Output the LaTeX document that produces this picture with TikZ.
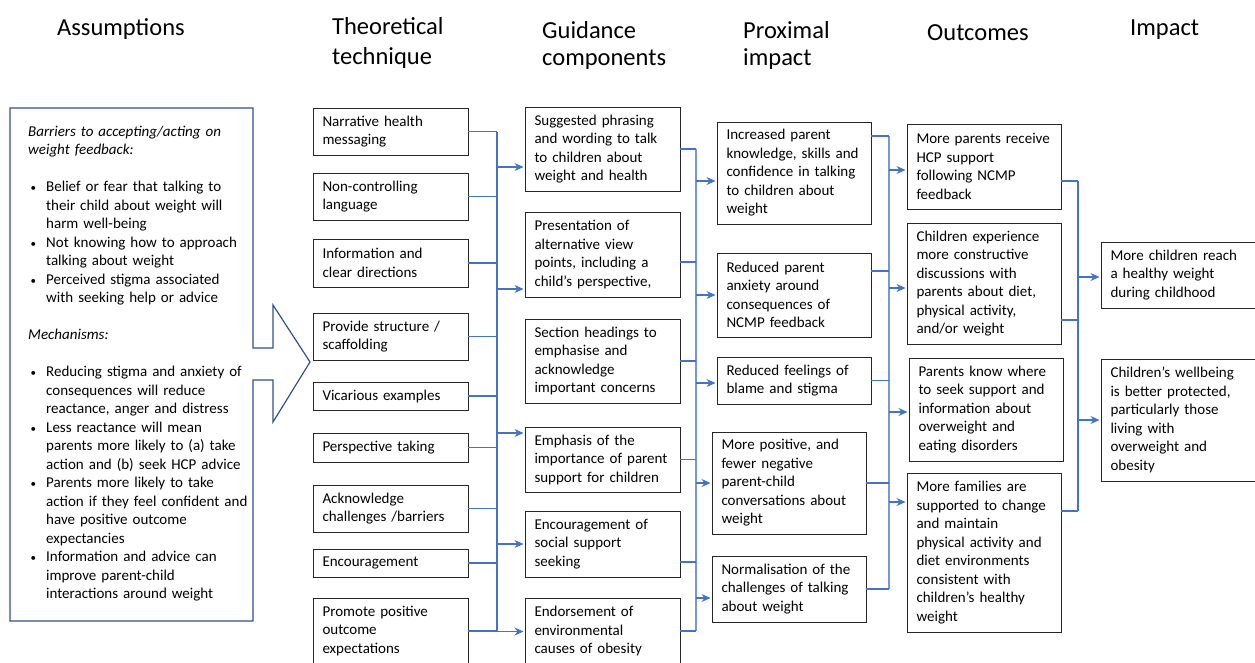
\documentclass[tikz,border=0pt]{standalone}
\usepackage{fontspec}
\setmainfont{Carlito}
\usetikzlibrary{arrows.meta,positioning}
\definecolor{linkblue}{RGB}{68,114,196}
\definecolor{buslight}{RGB}{120,152,212}
\definecolor{framenavy}{RGB}{47,82,143}
\newcommand{\bitem}{\par\hangindent=18pt\hangafter=1\noindent\hbox to 18pt{\hskip2.5pt{\fontsize{11}{11}\selectfont\textbullet}\hfil}}

\begin{document}
\begin{tikzpicture}[x=1pt,y=-1pt,>={Stealth[length=9pt,width=8pt]},
    box/.style={rectangle,draw=black!85,line width=0.9pt,outer sep=0pt,align=left,inner xsep=9.5pt,inner ysep=0pt,font=\fontsize{15}{18.5}\selectfont},
    techbox/.style={box,text width=136pt},
    guidebox/.style={box,text width=136pt},
    proxbox/.style={box,text width=135pt},
    outbox/.style={box,text width=135pt},
    impbox/.style={box,text width=146pt},
    head/.style={anchor=base west,inner sep=0pt,align=left,text width=160pt,font=\fontsize{24.5}{30}\selectfont},
    assumetext/.style={anchor=base west,inner sep=0pt,align=left,text width=222pt,font=\fontsize{15}{18.5}\selectfont},
    link/.style={draw=linkblue,line width=1.1pt},
    bus/.style={draw=buslight,line width=1.1pt},
    arrow link/.style={link,->,shorten >=1.5pt}]

    \useasboundingbox (0,0) rectangle (1255,662);
    \clip (0,0) rectangle (1255,662);

    \node[head] (hAssume) at (57,35) {Assumptions};
    \node[head] (hTech)   at (332,34) {Theoretical\\technique};
    \node[head] (hGuide)  at (542,38) {Guidance\\[-3pt]components};
    \node[head] (hProx)   at (743,38) {Proximal\\[-3pt]impact};
    \node[head] (hOut)    at (927,40) {Outcomes};
    \node[head] (hImp)    at (1130,35) {Impact};

    \draw[framenavy,line width=1.2pt] (10,108) -- (253,108) -- (253,348) -- (273,348) -- (273,305)
        -- (310,362) -- (273,422) -- (273,380) -- (253,380) -- (253,621) -- (10,621) -- cycle;
    \node[assumetext] (assume) at (28,136) {%
        \textit{Barriers to accepting/acting on\newline weight feedback:}\par\vskip18.5pt
        \bitem Belief or fear that talking to\newline their child about weight will\newline harm well-being
        \bitem Not knowing how to approach\newline talking about weight
        \bitem Perceived stigma associated\newline with seeking help or advice\par\vskip18.5pt
        \noindent\textit{Mechanisms:}\par\vskip18.5pt
        \bitem Reducing stigma and anxiety of\newline consequences will reduce\newline reactance, anger and distress
        \bitem Less reactance will mean\newline parents more likely to (a) take\newline action and (b) seek HCP advice
        \bitem Parents more likely to take\newline action if they feel confident and\newline have positive outcome\newline expectancies
        \bitem Information and advice can\newline improve parent-child\newline interactions around weight\par};

    \node[techbox,minimum height=47pt,anchor=north west] (narr) at (313,108) {Narrative health\\messaging};
    \node[techbox,minimum height=47pt,below=18pt of narr] (nonctrl) {Non-controlling\\language};
    \node[techbox,minimum height=48pt,below=19pt of nonctrl] (info) {Information and\\clear directions};
    \node[techbox,minimum height=47pt,below=26pt of info] (struct) {Provide structure /\\scaffolding};
    \node[techbox,minimum height=28pt,below=22pt of struct] (vicar) {Vicarious examples};
    \node[techbox,minimum height=29pt,below=23pt of vicar] (persp) {Perspective taking};
    \node[techbox,minimum height=47pt,below=23pt of persp] (acknow) {Acknowledge\\challenges /barriers};
    \node[techbox,minimum height=28pt,below=17pt of acknow] (encour) {Encouragement};
    \node[techbox,minimum height=66pt,below=21pt of encour] (promote) {Promote positive\\outcome\\expectations};

    \node[guidebox,minimum height=84pt,anchor=north west] (suggest) at (525,107) {Suggested phrasing\\and wording to talk\\to children about\\weight and health};
    \node[guidebox,minimum height=85pt,below=21pt of suggest] (present) {Presentation of\\alternative view\\points, including a\\child’s perspective,};
    \node[guidebox,minimum height=84pt,below=22pt of present] (headings) {Section headings to\\emphasise and\\acknowledge\\important concerns};
    \node[guidebox,minimum height=65pt,below=24pt of headings] (emph) {Emphasis of the\\importance of parent\\support for children};
    \node[guidebox,minimum height=66pt,below=19pt of emph] (social) {Encouragement of\\social support\\seeking};
    \node[guidebox,minimum height=66pt,below=21pt of social] (endorse) {Endorsement of\\environmental\\causes of obesity};

    \node[proxbox,minimum height=102pt,anchor=north west] (incr) at (717,122) {Increased parent\\knowledge, skills and\\confidence in talking\\to children about\\weight};
    \node[proxbox,minimum height=84pt,below=29pt of incr] (anx) {Reduced parent\\anxiety around\\consequences of\\NCMP feedback};
    \node[proxbox,minimum height=47pt,below=20pt of anx] (blame) {Reduced feelings of\\blame and stigma};
    \node[proxbox,minimum height=102pt,below=28pt of blame,xshift=-5pt] (conv) {More positive, and\\fewer negative\\parent-child\\conversations about\\weight};
    \node[proxbox,minimum height=66pt,below=22pt of conv] (norm) {Normalisation of the\\challenges of talking\\about weight};

    \node[outbox,minimum height=85pt,anchor=north west] (hcp) at (907,124) {More parents receive\\HCP support\\following NCMP\\feedback};
    \node[outbox,minimum height=121pt,below=14pt of hcp] (discuss) {Children experience\\more constructive\\discussions with\\parents about diet,\\physical activity,\\and/or weight};
    \node[outbox,minimum height=103pt,below=14pt of discuss,xshift=2pt] (know) {Parents know where\\to seek support and\\information about\\overweight and\\eating disorders};
    \node[outbox,minimum height=159pt,below=12pt of know,xshift=-2pt] (famil) {More families are\\supported to change\\and maintain\\physical activity and\\diet environments\\consistent with\\children’s healthy\\weight};

    \node[impbox,minimum height=66pt,anchor=north west] (reach) at (1101,242) {More children reach\\a healthy weight\\during childhood};
    \node[impbox,minimum height=122pt,below=51pt of reach] (wellb) {Children’s wellbeing\\is better protected,\\particularly those\\living with\\overweight and\\obesity};

    \coordinate (busA) at (497,0);
    \coordinate (busB) at (696,0);
    \coordinate (busC) at (889,0);
    \coordinate (busD) at (1078,0);

    % theoretical technique -> guidance components
    \draw[link] (narr.east -| busA) -- (promote.east -| busA);
    \foreach \n in {narr,nonctrl,info,struct,vicar,persp,acknow,encour,promote}
        \draw[link] (\n.east) -- (\n.east -| busA);
    \coordinate (toSugg) at ([yshift=-18pt]suggest.west);
    \coordinate (toPres) at ([yshift=-34.5pt]present.west);
    \coordinate (toEmph) at ([yshift=26.5pt]emph.west);
    \coordinate (toSocial) at (social.west);
    \coordinate (toEndorse) at ([yshift=-0.5pt]endorse.west);
    \foreach \n in {toSugg,toPres,toEmph,toSocial,toEndorse}
        \draw[arrow link] (\n -| busA) -- (\n);

    % guidance components -> proximal impact
    \draw[bus] (suggest.east -| busB) -- (endorse.east -| busB);
    \coordinate (fromPres) at ([yshift=-7.5pt]present.east);
    \coordinate (fromSocial) at ([yshift=-18pt]social.east);
    \foreach \n in {suggest.east,fromPres,headings.east,emph.east,fromSocial,endorse.east}
        \draw[link] (\n) -- (\n -| busB);
    \coordinate (toIncr) at ([yshift=-8pt]incr.west);
    \coordinate (toAnx) at (anx.west);
    \coordinate (toBlame) at ([yshift=-2.5pt]blame.west);
    \coordinate (toConv) at (conv.west);
    \coordinate (toNorm) at ([yshift=-9pt]norm.west);
    \foreach \n in {toIncr,toAnx,toBlame,toConv,toNorm}
        \draw[arrow link] (\n -| busB) -- (\n);

    % proximal impact -> outcomes
    \draw[bus] ([yshift=37pt]incr.east -| busC) -- (norm.east -| busC);
    \coordinate (fromIncr) at ([yshift=37pt]incr.east);
    \coordinate (fromAnx) at ([yshift=24pt]anx.east);
    \foreach \n in {fromIncr,fromAnx,blame.east,conv.east,norm.east}
        \draw[link] (\n) -- (\n -| busC);
    \coordinate (toHcp) at ([yshift=-3.5pt]hcp.west);
    \coordinate (toDiscuss) at ([yshift=-4.5pt]discuss.west);
    \coordinate (toKnow) at ([yshift=-2.5pt]know.west);
    \coordinate (toFamil) at ([yshift=50.5pt]famil.west);
    \foreach \n in {toHcp,toDiscuss,toKnow,toFamil}
        \draw[arrow link] (\n -| busC) -- (\n);

    % outcomes -> impact
    \coordinate (fromHcp) at ([yshift=-14.5pt]hcp.east);
    \coordinate (fromDiscuss) at ([yshift=-36.5pt]discuss.east);
    \coordinate (fromFamil) at ([yshift=41.5pt]famil.east);
    \draw[link] (fromHcp -| busD) -- (fromFamil -| busD);
    \foreach \n in {fromHcp,fromDiscuss,fromFamil}
        \draw[link] (\n) -- (\n -| busD);
    \coordinate (toReach) at ([yshift=-2pt]reach.west);
    \coordinate (toWellb) at (wellb.west);
    \foreach \n in {toReach,toWellb}
        \draw[arrow link] (\n -| busD) -- (\n);
\end{tikzpicture}
\end{document}
